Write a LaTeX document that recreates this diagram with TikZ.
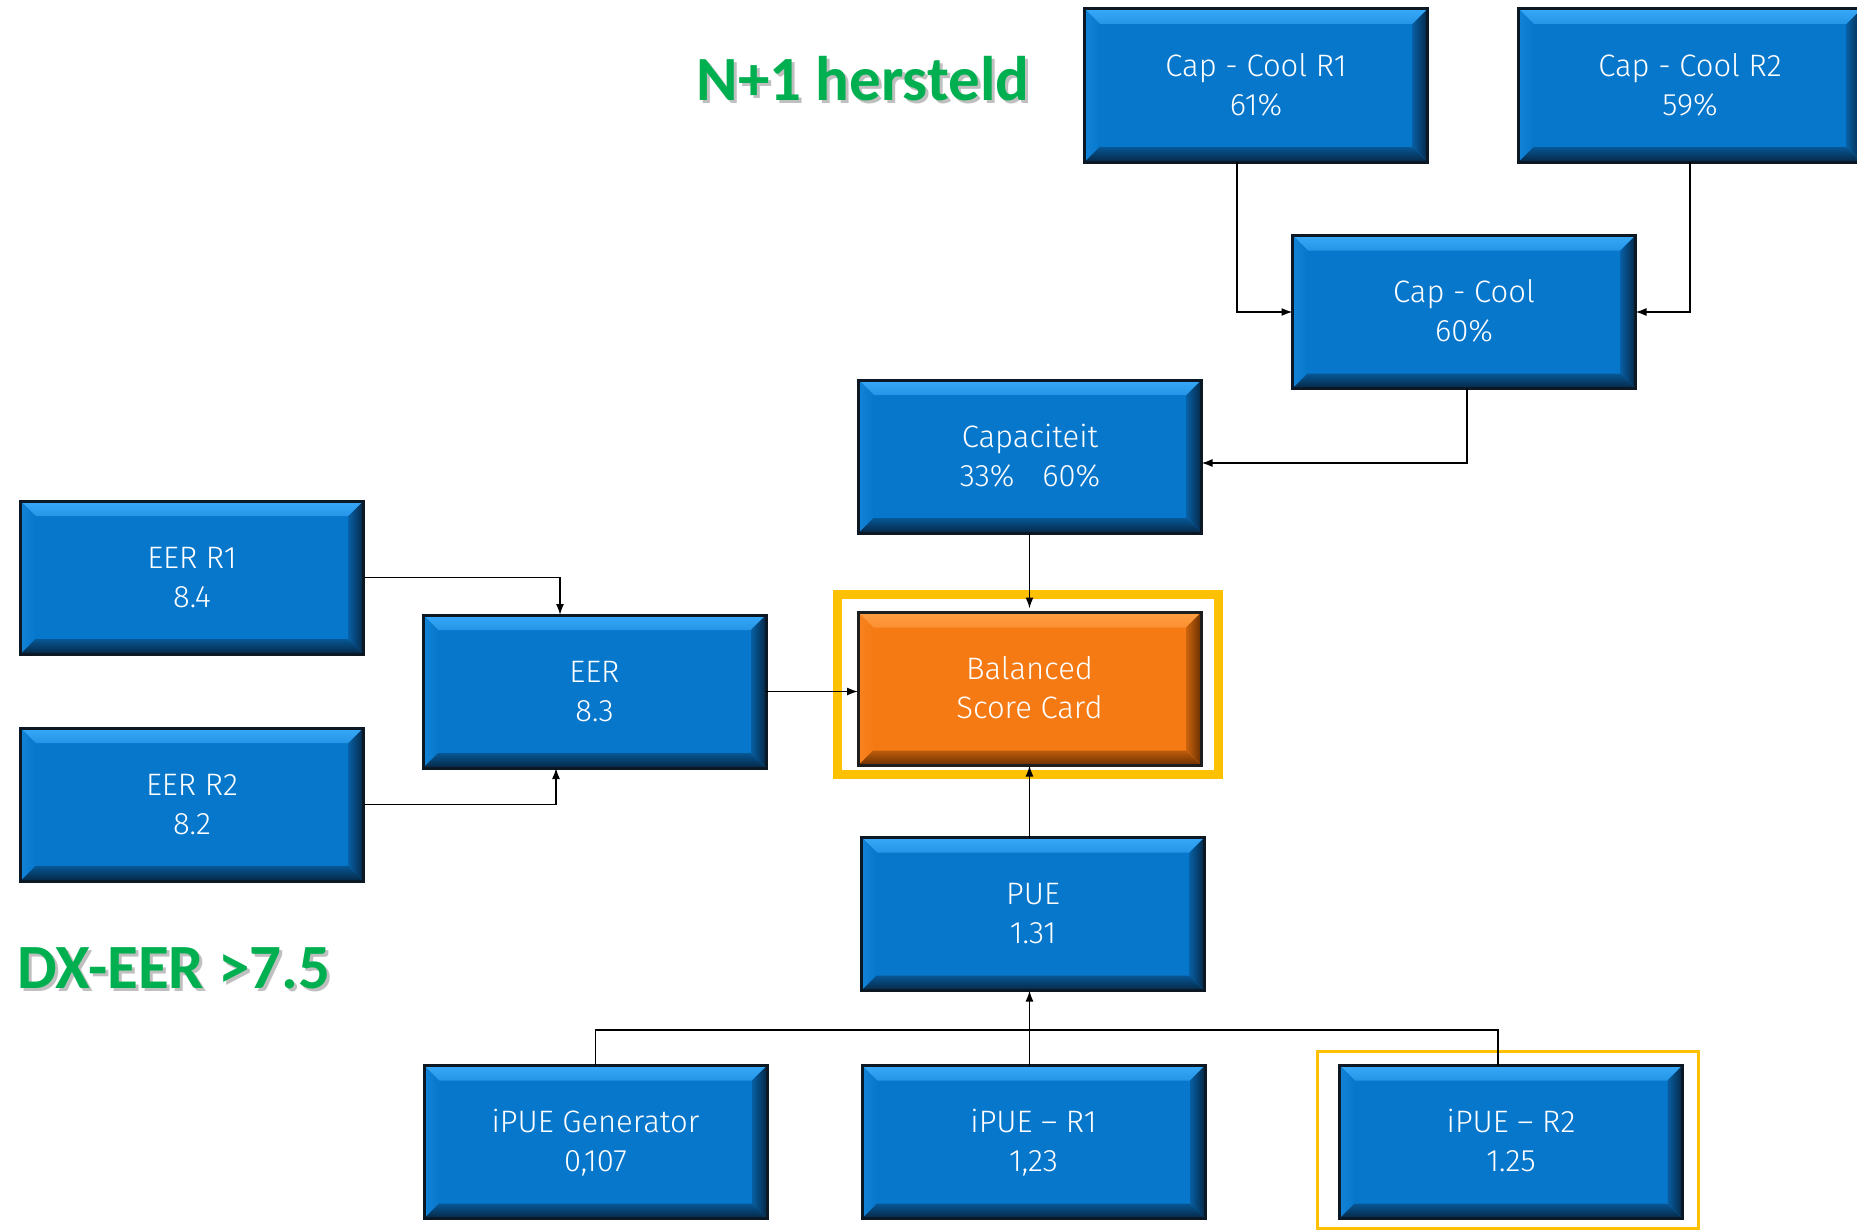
\documentclass[tikz,border=0pt]{standalone}
\usepackage{fontspec}
\usetikzlibrary{arrows.meta,positioning}
\setmainfont{Fira Sans}[UprightFont={* Light}]
\newfontfamily\calib{Carlito}
\definecolor{bfill}{HTML}{0777CC}
\definecolor{blight}{HTML}{38A8F8}
\definecolor{bdark}{HTML}{062744}
\definecolor{bline}{HTML}{0C1824}
\definecolor{ofill}{HTML}{F57A14}
\definecolor{olight}{HTML}{FF9E42}
\definecolor{odark}{HTML}{6A3000}
\definecolor{oline}{HTML}{1E1E1E}
\definecolor{yel}{HTML}{FFC000}
\definecolor{grn}{HTML}{00B050}
\newcommand{\boxfont}{\fontsize{31pt}{39pt}\selectfont}
\newcommand{\bigfont}{\calib\bfseries\fontsize{63pt}{70pt}\selectfont}
\newcommand{\twolines}[2]{\rule{0pt}{27.3pt}#1\\#2\rule[-6.5pt]{0pt}{6.5pt}}
\tikzset{
  bevelbox/.style n args={4}{rectangle, minimum width=343pt, minimum height=153pt,
    inner sep=0pt, outer sep=0pt, fill=#1, draw=#4, line width=3pt,
    text=white, align=center, font=\boxfont,
    path picture={
      \coordinate (pnw) at (path picture bounding box.north west);
      \coordinate (pne) at (path picture bounding box.north east);
      \coordinate (psw) at (path picture bounding box.south west);
      \coordinate (pse) at (path picture bounding box.south east);
      \fill[top color=#2, bottom color=#2!60!#1] (pnw) -- (pne) -- ([shift={(-15pt,-15pt)}]pne) -- ([shift={(15pt,-15pt)}]pnw) -- cycle;
      \fill[left color=#2!25!#1, right color=#1] (pnw) -- ([shift={(15pt,-15pt)}]pnw) -- ([shift={(15pt,15pt)}]psw) -- (psw) -- cycle;
      \fill[left color=#1!70!#3, right color=#3] (pne) -- ([shift={(-15pt,-15pt)}]pne) -- ([shift={(-15pt,15pt)}]pse) -- (pse) -- cycle;
      \fill[top color=#1!60!#3, bottom color=#3] (psw) -- ([shift={(15pt,15pt)}]psw) -- ([shift={(-15pt,15pt)}]pse) -- (pse) -- cycle;
    }},
  bluebox/.style={bevelbox={bfill}{blight}{bdark}{bline}},
  orangebox/.style={bevelbox={ofill}{olight}{odark}{oline}},
  conn/.style={line width=1.6pt, draw=black},
  arr/.style={conn, -{Latex[length=11pt,width=8pt]}},
  greentext/.style={text=grn, font=\bigfont, anchor=base, inner sep=0pt},
  shadowtext/.style={text=black, opacity=0.25, font=\bigfont, anchor=base, inner sep=0pt}
}
\begin{document}
\begin{tikzpicture}[x=1pt,y=-1pt]
\useasboundingbox (0,0) rectangle (1857,1231);
\fill[white] (0,0) rectangle (1857,1231);

% green annotations
\node[shadowtext] (n1s) at (866,103) {N+1 hersteld};
\node[greentext] (n1) at (863,100) {N+1 hersteld};
\node[shadowtext] (dxs) at (177,991) {DX-EER >7.5};
\node[greentext] (dx) at (174,988) {DX-EER >7.5};

% boxes
\node[bluebox] (cr1) at (1256,85.5) {\twolines{Cap - Cool R1}{61\%}};
\node[bluebox] (cr2) at (1690,85.5) {\twolines{Cap - Cool R2}{59\%}};
\node[bluebox] (cc) at (1464,312) {\twolines{Cap - Cool}{60\%}};
\node[bluebox] (cap) at (1030,456.5) {\twolines{Capaciteit}{33\%\hspace{0.9em}60\%}};
\node[bluebox] (eer1) at (192,577.5) {\twolines{EER R1}{8.4}};
\node[bluebox] (eer) at (594.5,691.5) {\twolines{EER}{8.3}};
\node[bluebox] (eer2) at (192,804.5) {\twolines{EER R2}{8.2}};
\node[orangebox] (bsc) at (1029.5,689) {\twolines{Balanced}{Score Card}};
\node[bluebox] (pue) at (1033,914) {\twolines{PUE}{1.31}};
\node[bluebox] (ig) at (595.5,1142) {\twolines{iPUE Generator}{0,107}};
\node[bluebox] (i1) at (1033.5,1142) {\twolines{iPUE -- R1}{1,23}};
\node[bluebox] (i2) at (1511,1142) {\twolines{iPUE -- R2}{1.25}};

% highlight frames
\draw[yel, line width=8.5pt] ([shift={(-20.5pt,18pt)}]bsc.north west) rectangle ([shift={(17.5pt,-9pt)}]bsc.south east);
\draw[yel, line width=3pt] ([shift={(-22pt,14pt)}]i2.north west) rectangle ([shift={(16pt,-10pt)}]i2.south east);

% connectors
\coordinate (cr1out) at ([xshift=-19pt]cr1.south);
\draw[arr] (cr1out) |- (cc.west);
\draw[arr] (cr2.south) |- (cc.east);
\coordinate (ccout) at ([xshift=3pt]cc.south);
\coordinate (capin) at ([yshift=-6.5pt]cap.east);
\draw[arr] (ccout) |- (capin);
\draw[arr] (bsc.north |- cap.south) -- ([yshift=4pt]bsc.north);
\coordinate (eerin1) at ([xshift=-34.5pt]eer.north);
\coordinate (eerin2) at ([xshift=-38.5pt]eer.south);
\coordinate (eer1out) at (eer1.east);
\coordinate (eer2out) at (eer2.east);
\draw[arr] (eer1out) -| (eerin1);
\draw[arr] (eer2out) -| (eerin2);
\draw[arr] (eer.east) -- (eer.east -| bsc.west);
\draw[arr] (bsc.south |- pue.north) -- (bsc.south);
\draw[arr] (bsc.south |- i1.north) -- (bsc.south |- pue.south);
\coordinate (bar) at (0,1030);
\coordinate (i2in) at ([xshift=-13pt]i2.north);
\draw[conn] (ig.north) |- (i2in |- bar) -- (i2in);
\end{tikzpicture}
\end{document}
